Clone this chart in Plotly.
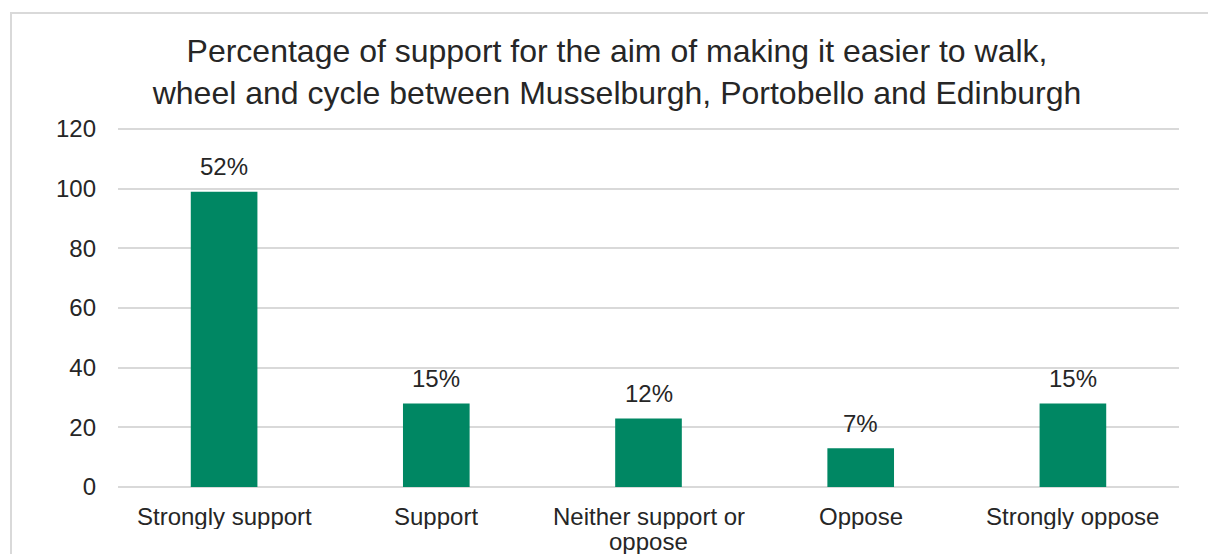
import plotly.graph_objects as go

# Survey responses (number of respondents per answer)
categories = [
    "Strongly support",
    "Support",
    "Neither support or<br>oppose",
    "Oppose",
    "Strongly oppose",
]
counts = [99, 28, 23, 13, 28]

# Share of all responses, shown above each bar
total = sum(counts)
percent_labels = [f"{round(c / total * 100)}%" for c in counts]

y_ticks = [0, 20, 40, 60, 80, 100, 120]

BAR_COLOR = "#008763"
GRID_COLOR = "#D9D9D9"
TEXT_COLOR = "#262626"
FONT = "Liberation Sans, Arial, sans-serif"

W, H = 1208, 554
M_L, M_R, M_T, M_B = 118, 29, 126, 67
plot_w = W - M_L - M_R
plot_h = H - M_T - M_B
axis_px = M_T + plot_h  # pixel row of the x axis


def px_to_paper_y(py):
    return (axis_px - py) / plot_h


fig = go.Figure()
fig.add_trace(
    go.Bar(
        x=categories,
        y=counts,
        marker=dict(color=BAR_COLOR, line=dict(width=0)),
        hoverinfo="y",
    )
)

# Percentage labels above the bars
for cat, c, lab in zip(categories, counts, percent_labels):
    fig.add_annotation(
        x=cat, y=c, xref="x", yref="y",
        text=lab, showarrow=False,
        yanchor="middle", yshift=25,
        font=dict(family=FONT, size=24, color=TEXT_COLOR),
    )

# Category labels under the axis, with tight line spacing for wrapped names
LINE_1_PX, LINE_STEP_PX = 516, 25
for cat in categories:
    for i, line in enumerate(cat.split("<br>")):
        fig.add_annotation(
            x=cat, xref="x",
            y=px_to_paper_y(LINE_1_PX + i * LINE_STEP_PX), yref="paper",
            text=line, showarrow=False,
            xanchor="center", yanchor="middle", valign="middle",
            borderpad=0, height=LINE_STEP_PX,
            font=dict(family=FONT, size=24, color=TEXT_COLOR),
        )

# Chart-area border
fig.add_shape(
    type="rect", xref="paper", yref="paper",
    x0=(11 - M_L) / plot_w, x1=(1225 - M_L) / plot_w,
    y0=px_to_paper_y(600), y1=px_to_paper_y(13),
    line=dict(color=GRID_COLOR, width=2), layer="below",
)

fig.update_layout(
    width=W, height=H,
    margin=dict(l=M_L, r=M_R, t=M_T, b=M_B, autoexpand=False),
    paper_bgcolor="white", plot_bgcolor="white",
    showlegend=False,
    bargap=0.686,
    font=dict(family=FONT, size=24, color=TEXT_COLOR),
    title=dict(
        text="Percentage of support for the aim of making it easier to walk,<br>"
             "wheel and cycle between Musselburgh, Portobello and Edinburgh",
        x=(617 - M_L) / plot_w, xref="paper", xanchor="center",
        y=1 - 62 / H, yref="container", yanchor="middle",
        font=dict(family=FONT, size=32, color=TEXT_COLOR),
    ),
    xaxis=dict(
        automargin=False,
        showgrid=False, showline=False, zeroline=False,
        ticks="", showticklabels=False,
    ),
    yaxis=dict(
        automargin=False,
        range=[0, 121], tickvals=y_ticks,
        showgrid=True, gridcolor=GRID_COLOR, gridwidth=1.5,
        zeroline=True, zerolinecolor=GRID_COLOR, zerolinewidth=1.5,
        showline=False, ticks="",
        tickfont=dict(size=24, color=TEXT_COLOR),
        ticklabelstandoff=21,
    ),
)

fig.write_html("out.html")
